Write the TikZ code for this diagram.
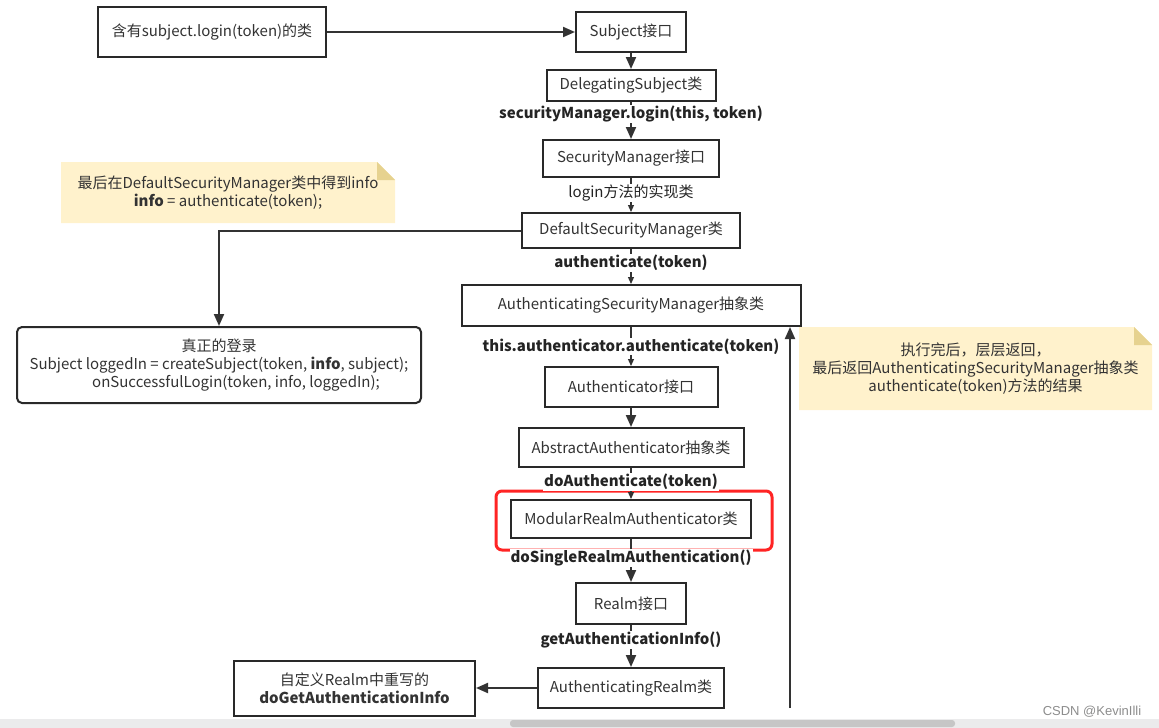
\documentclass[tikz,border=0pt]{standalone}
\usepackage{fontspec}
\setmainfont{Noto Sans CJK SC}
\newfontfamily\wmfont{Liberation Sans}
\usepackage{xcolor}
\usetikzlibrary{arrows.meta, positioning}
\definecolor{ink}{HTML}{333333}
\definecolor{notefill}{HTML}{FFF2CC}
\definecolor{notefold}{HTML}{E6D28F}
\definecolor{markred}{HTML}{FF2424}
\definecolor{scrollbg}{HTML}{EBEBEC}
\definecolor{scrollthumb}{HTML}{C6C6C6}
\tikzstyle{classbox} = [rectangle, draw=ink!80!black, line width=2pt, fill=white, text=ink, inner sep=0pt, align=center, font=\fontsize{15}{18}\selectfont]
\tikzstyle{arrow} = [line width=2pt, draw=ink, -{Triangle[length=12pt,width=10pt]}]
\tikzstyle{thinarrow} = [line width=1.2pt, draw=ink, -{Triangle[length=7pt,width=6pt]}]
\tikzstyle{edgelabel} = [fill=white, inner sep=1pt, text=ink!70!black, font=\bfseries\fontsize{15}{18}\selectfont]
\tikzstyle{note} = [rectangle, inner sep=0pt, align=center, text=ink, font=\fontsize{15}{18}\selectfont,
  path picture={
    \fill[notefill] (path picture bounding box.north west) -- ([xshift=-18pt]path picture bounding box.north east)
      -- ([yshift=-18pt]path picture bounding box.north east) -- (path picture bounding box.south east)
      -- (path picture bounding box.south west) -- cycle;
    \fill[notefold] ([xshift=-18pt]path picture bounding box.north east) -- ([yshift=-18pt]path picture bounding box.north east)
      -- ([xshift=-18pt,yshift=-18pt]path picture bounding box.north east) -- cycle;}]
\tikzstyle{redframe} = [draw=markred, line width=3pt, rounded corners=6pt]

\begin{document}
\begin{tikzpicture}[x=1pt, y=-1pt]
\useasboundingbox (0,0) rectangle (1159,728);

% Main chain
\node (subject-if) [classbox, minimum width=110pt, minimum height=40pt] at (631,32) {Subject接口};
\node (delegating) [classbox, minimum width=169pt, minimum height=31pt, below=16pt of subject-if] {DelegatingSubject类};
\node (secmgr) [classbox, minimum width=176pt, minimum height=37pt, below=37pt of delegating] {SecurityManager接口};
\node (defsm) [classbox, minimum width=218pt, minimum height=35pt, below=34pt of secmgr] {DefaultSecurityManager类};
\node (asm) [classbox, minimum width=339pt, minimum height=41pt, below=35pt of defsm] {AuthenticatingSecurityManager抽象类};
\node (authenticator) [classbox, minimum width=173pt, minimum height=40pt, below=39pt of asm] {Authenticator接口};
\node (abstract-auth) [classbox, minimum width=225pt, minimum height=39pt, below=19pt of authenticator] {AbstractAuthenticator抽象类};
\node (modular) [classbox, minimum width=240pt, minimum height=38pt, below=31pt of abstract-auth] {ModularRealmAuthenticator类};
\node (realm-if) [classbox, minimum width=110pt, minimum height=41pt, below=43pt of modular] {Realm接口};
\node (authrealm) [classbox, minimum width=186pt, minimum height=40pt, below=42pt of realm-if] {AuthenticatingRealm类};

% Side boxes
\node (caller-class) [classbox, minimum width=228pt, minimum height=50pt] at (212,32) {含有subject.login(token)的类};
\node (login-box) [classbox, rounded corners=5pt, minimum width=404pt, minimum height=76pt] at (219,365)
  {真正的登录\\Subject loggedIn = createSubject(token, \textbf{info}, subject);\\\hspace*{34pt}onSuccessfulLogin(token, info, loggedIn);};
\node (custom-realm) [classbox, minimum width=241pt, minimum height=55pt] at (354.5,688) {自定义Realm中重写的\\\textbf{doGetAuthenticationInfo}};

% Notes
\node (note-info) [note, minimum width=334pt, minimum height=61pt] at (228,192.5)
  {最后在DefaultSecurityManager类中得到info\\\textbf{info} = authenticate(token);};
\node (note-return) [note, minimum width=353pt, minimum height=83pt] at (975.5,368.5)
  {执行完后，层层返回，\\最后返回AuthenticatingSecurityManager抽象类\\authenticate(token)方法的结果};

% Highlight
\draw [redframe] ([shift={(-14pt,8pt)}]modular.north west) rectangle ([shift={(20pt,-11pt)}]modular.south east);

% Arrows
\draw [arrow] (caller-class) -- (subject-if);
\draw [arrow] (subject-if) -- (delegating);
\draw [arrow] (delegating) -- node[edgelabel, pos=0.33] {securityManager.login(this, token)} (secmgr);
\draw [thinarrow] (secmgr) -- node[edgelabel, pos=0.44, font=\fontsize{15}{18}\selectfont] {login方法的实现类} (defsm);
\draw [arrow] (defsm.west) -| (login-box.north);
\draw [thinarrow] (defsm) -- node[edgelabel, pos=0.4] {authenticate(token)} (asm);
\draw [thinarrow] (asm) -- node[edgelabel, pos=0.5] {this.authenticator.authenticate(token)} (authenticator);
\draw [arrow] (authenticator) -- (abstract-auth);
\draw [thinarrow] (abstract-auth) -- node[edgelabel, pos=0.45] {doAuthenticate(token)} (modular);
\draw [arrow] (modular) -- node[edgelabel, pos=0.44] {doSingleRealmAuthentication()} (realm-if);
\draw [arrow] (realm-if) -- node[edgelabel, pos=0.36] {getAuthenticationInfo()} (authrealm);
\draw [arrow] (authrealm) -- (custom-realm);
\coordinate (return-start) at (790,708);
\draw [arrow] (return-start) -- (return-start |- asm.south);

% Window bits
\fill [scrollbg] (0,719) rectangle (1159,728);
\fill [scrollthumb, rounded corners=3pt] (510,720) rectangle (955,727);
\node (watermark) [text=black!45, font=\wmfont\fontsize{13}{15}\selectfont] at (1092,712) {CSDN @KevinIlli};

\end{tikzpicture}
\end{document}
